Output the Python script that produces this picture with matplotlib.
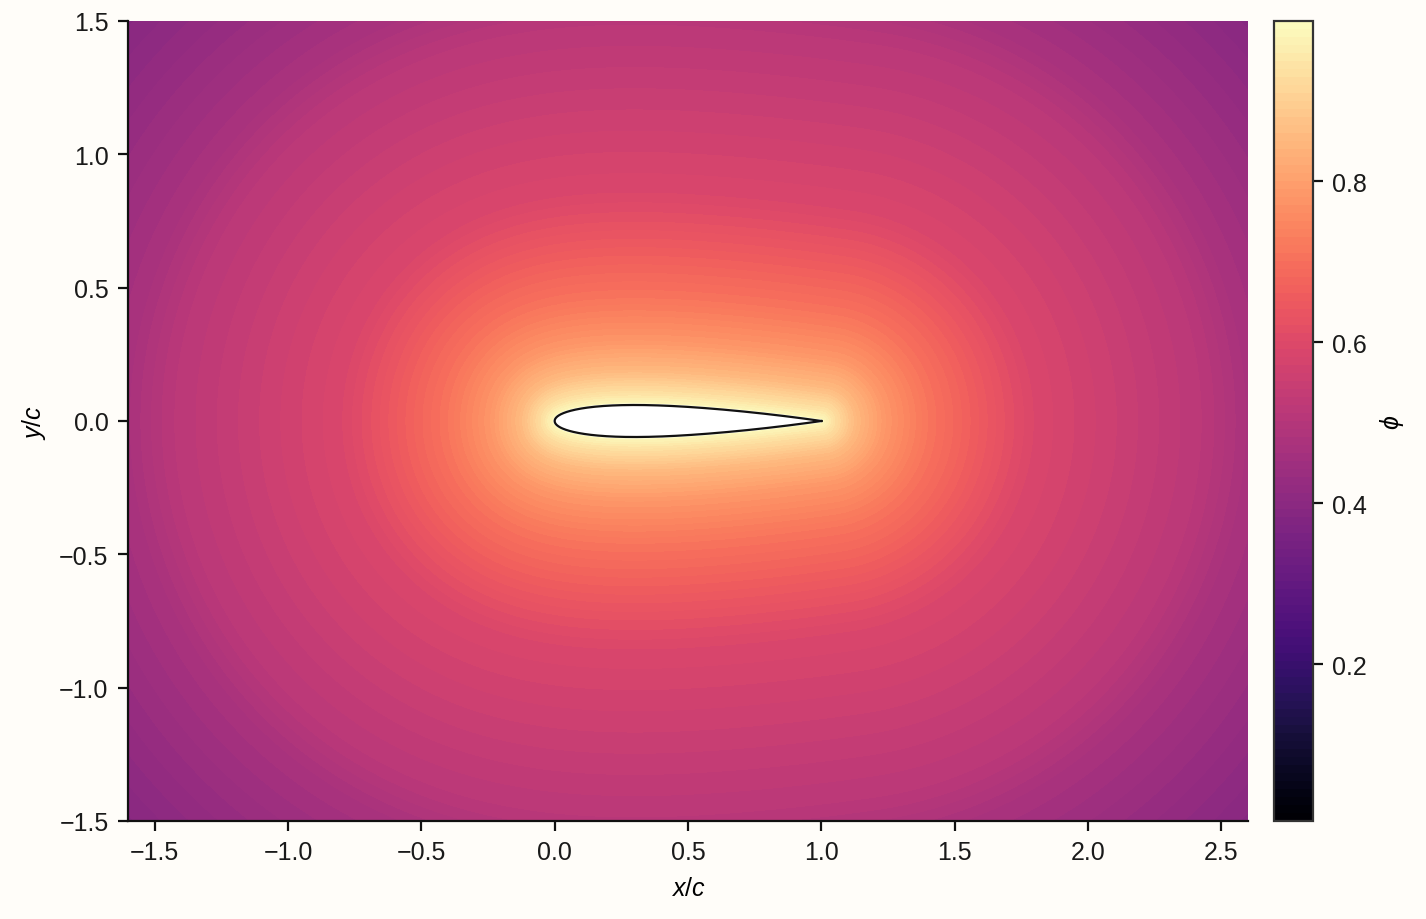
import numpy as np
import matplotlib
matplotlib.use('Agg')
import matplotlib.pyplot as plt
from matplotlib.path import Path

# 翼型 (NACA 0012) と図の範囲
naca_thickness = 0.12
x_range = [-1.6, 2.6]
y_range = [-1.5, 1.5]

# 翼面からの距離ごとの phi の値
dist_samples = [0.0, 0.05, 0.13, 0.24, 0.40, 0.69, 0.80, 1.44, 1.60, 2.19, 2.40]
phi_samples = [0.99, 0.93, 0.85, 0.78, 0.71, 0.62, 0.59, 0.51, 0.47, 0.39, 0.37]

# 等高線とカラーバーの範囲
phi_min = 0.005
phi_max = 0.999
n_levels = 100

plt.rcParams['font.family'] = ['Liberation Sans', 'DejaVu Sans']
plt.rcParams['mathtext.fontset'] = 'custom'
plt.rcParams['mathtext.rm'] = 'Liberation Sans'
plt.rcParams['mathtext.it'] = 'Liberation Sans:italic'
plt.rcParams['font.size'] = 9
plt.rcParams['text.color'] = '#1a1a1a'
plt.rcParams['xtick.color'] = '#1a1a1a'
plt.rcParams['ytick.color'] = '#1a1a1a'

bg = '#fffdf9'


# NACA 4桁対称翼の座標を作る関数
def naca_profile(t, n=300):
    beta = np.linspace(0, np.pi, n)
    xc = 0.5 * (1 - np.cos(beta))
    yt = 5 * t * (0.2969 * np.sqrt(xc) - 0.1260 * xc - 0.3516 * xc**2
                  + 0.2843 * xc**3 - 0.1036 * xc**4)
    xs = np.concatenate([xc[::-1], xc[1:]])
    ys = np.concatenate([yt[::-1], -yt[1:]])
    return xs, ys


# 格子点から翼面までの最短距離
def wall_distance(X, Y, xs, ys):
    pts = np.column_stack([X.ravel(), Y.ravel()])
    d = np.empty(len(pts))
    step = 4000
    for i in range(0, len(pts), step):
        p = pts[i:i + step]
        dd = np.hypot(p[:, :1] - xs[None, :], p[:, 1:] - ys[None, :])
        d[i:i + step] = dd.min(axis=1)
    inside = Path(np.column_stack([xs, ys])).contains_points(pts)
    d[inside] = 0.0
    return d.reshape(X.shape)


xs, ys = naca_profile(naca_thickness)

gx = np.linspace(x_range[0], x_range[1], 420)
gy = np.linspace(y_range[0], y_range[1], 300)
X, Y = np.meshgrid(gx, gy)
D = wall_distance(X, Y, xs, ys)
phi = np.interp(D, dist_samples, phi_samples)

fig = plt.figure(figsize=(7.13, 4.6), dpi=200, facecolor=bg)
ax = fig.add_axes([128 / 1426, 1 - 822 / 920, 1120 / 1426, 800 / 920])
cax = fig.add_axes([1274 / 1426, 1 - 822 / 920, 39 / 1426, 800 / 920])

levels = np.linspace(phi_min, phi_max, n_levels + 1)
cf = ax.contourf(X, Y, phi, levels=levels, cmap='magma', vmin=phi_min, vmax=phi_max)

# 翼型
ax.fill(xs, ys, color='white', zorder=3)
ax.plot(xs, ys, color='#111111', lw=0.8, zorder=4)

ax.set_xlim(x_range)
ax.set_ylim(y_range)
ax.set_xlabel('$x/c$')
ax.set_ylabel('$y/c$')
ax.set_facecolor(bg)
for s in ['top', 'right']:
    ax.spines[s].set_visible(False)
for s in ['left', 'bottom']:
    ax.spines[s].set_linewidth(0.8)
    ax.spines[s].set_color('#111111')
ax.tick_params(width=0.8, length=3.5, color='#111111')

cb = fig.colorbar(cf, cax=cax, ticks=[0.2, 0.4, 0.6, 0.8])
cb.set_label(r'$\phi$')
cb.outline.set_edgecolor('#333333')
cb.outline.set_linewidth(0.8)
cax.tick_params(width=0.8, length=3.5, color='#111111')

fig.savefig('out.png', dpi=200, facecolor=bg)
